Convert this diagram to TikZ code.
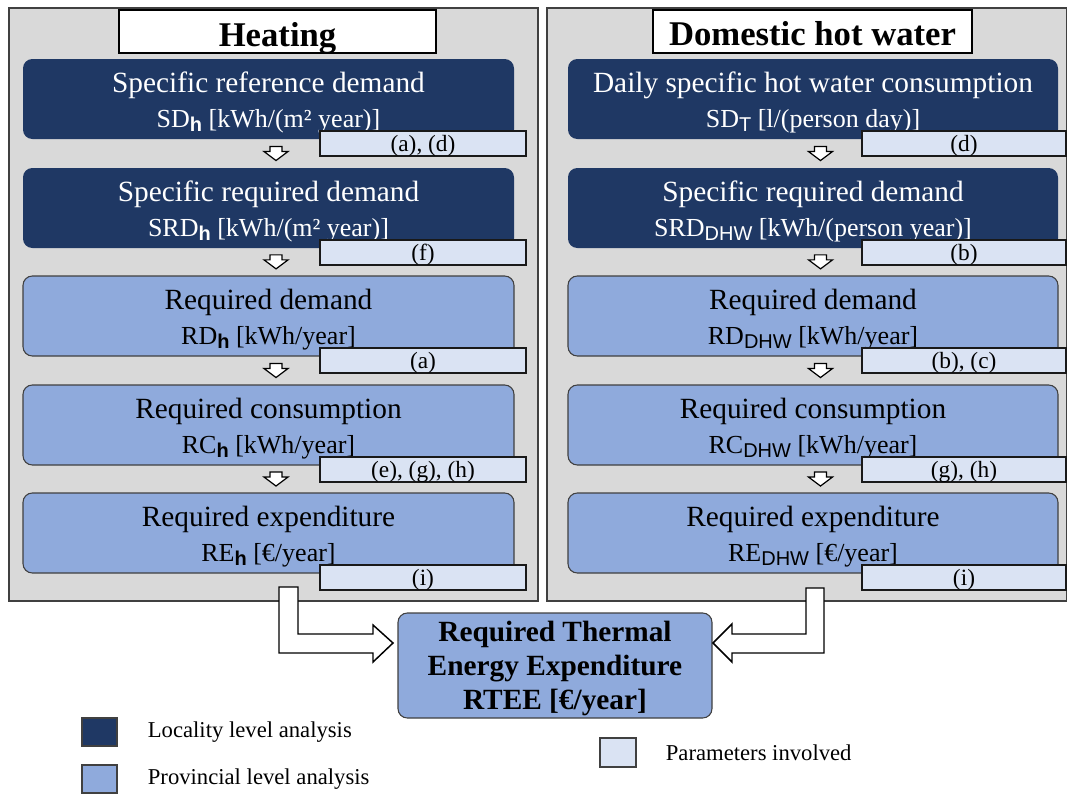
\documentclass[tikz,border=0pt]{standalone}
\usepackage{fontspec}
\setmainfont{Liberation Serif}
\newfontfamily\subfont{Liberation Sans}
\usepackage{tikz}
\usetikzlibrary{calc,positioning}
\definecolor{navy}{HTML}{1F3864}
\definecolor{lightblue}{HTML}{8FAADC}
\definecolor{parfill}{HTML}{DAE3F3}
\definecolor{panelgray}{HTML}{D9D9D9}
\definecolor{edge}{HTML}{404040}
\newcommand{\subtxt}[1]{\raisebox{-3pt}{\subfont\fontsize{15}{15}\selectfont #1}}
\tikzset{
  panel/.style={draw=edge, fill=panelgray, line width=1.1pt},
  headbox/.style={draw=black, fill=white, line width=0.9pt, inner sep=0pt},
  darkbox/.style={fill=navy, rounded corners=7pt, inner sep=0pt},
  lightbox/.style={draw=edge, fill=lightblue, line width=0.8pt, rounded corners=7pt, inner sep=0pt},
  parbox/.style={draw=black!90, fill=parfill, line width=1pt, inner sep=0pt},
  legbox/.style={draw=edge, line width=0.9pt, inner sep=0pt},
  sz/.style 2 args={minimum width=#1*0.75pt, minimum height=#2*0.75pt},
  title/.style={font=\bfseries\fontsize{26}{30}\selectfont, inner sep=0pt, anchor=base},
  boxtxt/.style={align=center, inner sep=0pt, anchor=base, font=\fontsize{22}{26.25}\selectfont},
  dktxt/.style={boxtxt, text=white},
  partxt/.style={font=\fontsize{17.5}{20}\selectfont, inner sep=0pt, yshift=-1.5pt},
  smallarrow/.style={draw=black, fill=white, line width=0.9pt, line join=miter},
  blockarrow/.style={draw=black, fill=white, line width=1.1pt, line join=miter},
  legtxt/.style={font=\fontsize{17}{20}\selectfont, anchor=west, inner sep=0pt}
}
\newcommand{\lnb}{\fontsize{19.5}{26.25}\selectfont}

\begin{document}
\begin{tikzpicture}[x=0.75pt,y=-0.75pt]
  \useasboundingbox (0,0) rectangle (1068,794);

  % panels
  \draw[panel] (9,8) rectangle (538,601);
  \draw[panel] (547,8) rectangle (1066.5,601);

  \node[headbox, sz={317}{43}] (hhead) at (277.5,31.5) {};
  \node[title] (hheadt) at (277.5,46.5) {Heating};
  \node[headbox, sz={319}{43}] (whead) at (812.5,31.5) {};
  \node[title] (wheadt) at (812.5,45.5) {Domestic hot water};

  % heating column
  \node[darkbox, sz={491}{80}] (h1) at (268.5,99) {};
  \node[darkbox, sz={491}{80}] (h2) at (268.5,208) {};
  \node[lightbox, sz={491}{80}] (h3) at (268.5,316) {};
  \node[lightbox, sz={491}{80}] (h4) at (268.5,425) {};
  \node[lightbox, sz={491}{80}] (h5) at (268.5,533) {};

  \node[dktxt] (h1t) at ($(h1.north)+(0,69)$) {Specific reference demand\\{\lnb SD\subtxt{\bfseries h} [kWh/(m² year)]}};
  \node[dktxt] (h2t) at ($(h2.north)+(0,69)$) {Specific required demand\\{\lnb SRD\subtxt{\bfseries h} [kWh/(m² year)]}};
  \node[boxtxt] (h3t) at ($(h3.north)+(0,69)$) {Required demand\\{\lnb RD\subtxt{\bfseries h} [kWh/year]}};
  \node[boxtxt] (h4t) at ($(h4.north)+(0,69)$) {Required consumption\\{\lnb RC\subtxt{\bfseries h} [kWh/year]}};
  \node[boxtxt] (h5t) at ($(h5.north)+(0,69)$) {Required expenditure\\{\lnb RE\subtxt{\bfseries h} [€/year]}};

  \node[parbox, sz={206}{25}] (hp1) at (423,143.5) {};
  \node[parbox, sz={206}{25}] (hp2) at (423,252.5) {};
  \node[parbox, sz={206}{25}] (hp3) at (423,360.5) {};
  \node[parbox, sz={206}{25}] (hp4) at (423,469.5) {};
  \node[parbox, sz={206}{25}] (hp5) at (423,577.5) {};
  \node[partxt] at (hp1) {(a), (d)};
  \node[partxt] at (hp2) {(f)};
  \node[partxt] at (hp3) {(a)};
  \node[partxt] at (hp4) {(e), (g), (h)};
  \node[partxt] at (hp5) {(i)};

  % domestic hot water column
  \node[darkbox, sz={490}{80}] (w1) at (813,99) {};
  \node[darkbox, sz={490}{80}] (w2) at (813,208) {};
  \node[lightbox, sz={490}{80}] (w3) at (813,316) {};
  \node[lightbox, sz={490}{80}] (w4) at (813,425) {};
  \node[lightbox, sz={490}{80}] (w5) at (813,533) {};

  \node[dktxt] (w1t) at ($(w1.north)+(0,69)$) {Daily specific hot water consumption\\{\lnb SD\subtxt{T} [l/(person day)]}};
  \node[dktxt] (w2t) at ($(w2.north)+(0,69)$) {Specific required demand\\{\lnb SRD\subtxt{DHW} [kWh/(person year)]}};
  \node[boxtxt] (w3t) at ($(w3.north)+(0,69)$) {Required demand\\{\lnb RD\subtxt{DHW} [kWh/year]}};
  \node[boxtxt] (w4t) at ($(w4.north)+(0,69)$) {Required consumption\\{\lnb RC\subtxt{DHW} [kWh/year]}};
  \node[boxtxt] (w5t) at ($(w5.north)+(0,69)$) {Required expenditure\\{\lnb RE\subtxt{DHW} [€/year]}};

  \node[parbox, sz={204}{25}] (wp1) at (964,143.5) {};
  \node[parbox, sz={204}{25}] (wp2) at (964,252.5) {};
  \node[parbox, sz={204}{25}] (wp3) at (964,360.5) {};
  \node[parbox, sz={204}{25}] (wp4) at (964,469.5) {};
  \node[parbox, sz={204}{25}] (wp5) at (964,577.5) {};
  \node[partxt] at (wp1) {(d)};
  \node[partxt] at (wp2) {(b)};
  \node[partxt] at (wp3) {(b), (c)};
  \node[partxt] at (wp4) {(g), (h)};
  \node[partxt] at (wp5) {(i)};

  % small arrows between steps
  \foreach \a/\b in {h1/h2,h2/h3,h3/h4,h4/h5,w1/w2,w2/w3,w3/w4,w4/w5}
    \draw[smallarrow] ($(\a.south)!0.5!(\b.north)+(1.5,-7)$) -- ++(12,0) -- ++(0,5)
      -- ++(6,0) -- ++(-12,9) -- ++(-12,-9) -- ++(6,0) -- cycle;

  % result
  \node[lightbox, sz={314}{105}, align=center, text depth=0pt, font=\bfseries\fontsize{22}{25.5}\selectfont] (rtee) at (555,665.5)
    {Required Thermal\\Energy Expenditure\\RTEE [€/year]};

  \draw[blockarrow] (279,587) -- (298,587) -- (298,634) -- (373,634) -- (373,625) -- (393,643)
    -- (373,662) -- (373,653) -- (279,653) -- cycle;
  \draw[blockarrow] (824,588) -- (806,588) -- (806,634) -- (732,634) -- (732,624) -- (713,643)
    -- (732,662) -- (732,653) -- (824,653) -- cycle;

  % legend
  \node[legbox, fill=navy, sz={35}{28}] (lg1) at (99.5,732) {};
  \node[legtxt, right=22.5pt of lg1] (lg1t) {Locality level analysis};
  \node[legbox, fill=lightblue, sz={35}{28}] (lg2) at (99.5,779) {};
  \node[legtxt, right=22.5pt of lg2] (lg2t) {Provincial level analysis};
  \node[legbox, fill=parfill, sz={36}{29}] (lg3) at (618,752.5) {};
  \node[legtxt, right=21.75pt of lg3] (lg3t) {Parameters involved};
\end{tikzpicture}
\end{document}
